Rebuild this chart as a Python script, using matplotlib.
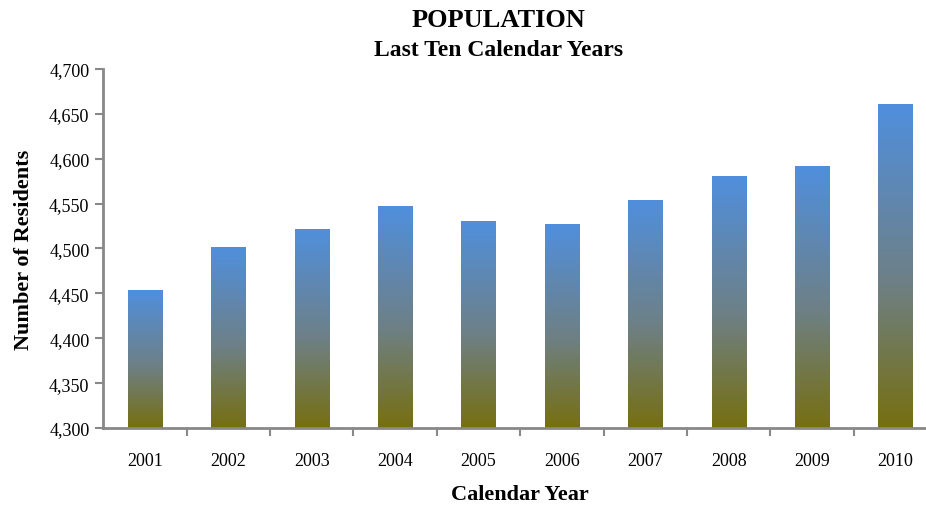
import numpy as np
import matplotlib
matplotlib.use("Agg")
import matplotlib.pyplot as plt
from matplotlib.colors import LinearSegmentedColormap
from matplotlib.ticker import FuncFormatter

years = ['2001', '2002', '2003', '2004', '2005', '2006', '2007', '2008', '2009', '2010']
residents = [4453, 4501, 4521, 4547, 4530, 4527, 4553, 4580, 4591, 4660]

plt.rcParams['font.family'] = ['Liberation Serif', 'DejaVu Serif']

# olive at the foot of each bar fading up into blue
grad = LinearSegmentedColormap.from_list(
    'bars', [(0.0, '#766f10'), (0.45, '#6e8086'), (1.0, '#508fdd')])

fig = plt.figure(figsize=(9.26, 5.06), dpi=100)
ax = fig.add_axes([0.1116, 0.1522, 0.9003, 0.7095])

base = 4300
width = 0.41
g = np.linspace(0, 1, 256).reshape(-1, 1)
for i, v in enumerate(residents):
    ax.imshow(g, extent=[i - width / 2, i + width / 2, base, v], origin='lower',
              aspect='auto', cmap=grad, interpolation='bicubic', zorder=2)

ax.set_xlim(-0.5, len(years) - 0.5)
ax.set_ylim(base, 4700)
ax.set_yticks(range(4300, 4701, 50))
ax.yaxis.set_major_formatter(FuncFormatter(lambda v, p: f'{int(v):,}'))

ax.set_xticks(range(len(years)))
ax.set_xticklabels(years)
ax.set_xticks(np.arange(0.5, len(years) - 0.5, 1), minor=True)
ax.tick_params(axis='x', which='major', length=0, pad=17, labelsize=13)
ax.tick_params(axis='x', which='minor', length=6, width=1.5, color='#888888')
ax.tick_params(axis='y', length=6, width=1.5, color='#888888', labelsize=13, pad=4)

for s in ['top', 'right']:
    ax.spines[s].set_visible(False)
for s in ['left', 'bottom']:
    ax.spines[s].set_color('#888888')
    ax.spines[s].set_linewidth(2)

ax.set_ylabel('Number of Residents', fontsize=16, fontweight='bold', labelpad=11)
ax.set_xlabel('Calendar Year', fontsize=16, fontweight='bold', labelpad=11)

fig.text(0.538, 0.960, 'POPULATION', ha='center', va='center', fontsize=19, fontweight='bold')
fig.text(0.538, 0.901, 'Last Ten Calendar Years', ha='center', va='center', fontsize=17, fontweight='bold')

fig.savefig('out.png', dpi=100)
